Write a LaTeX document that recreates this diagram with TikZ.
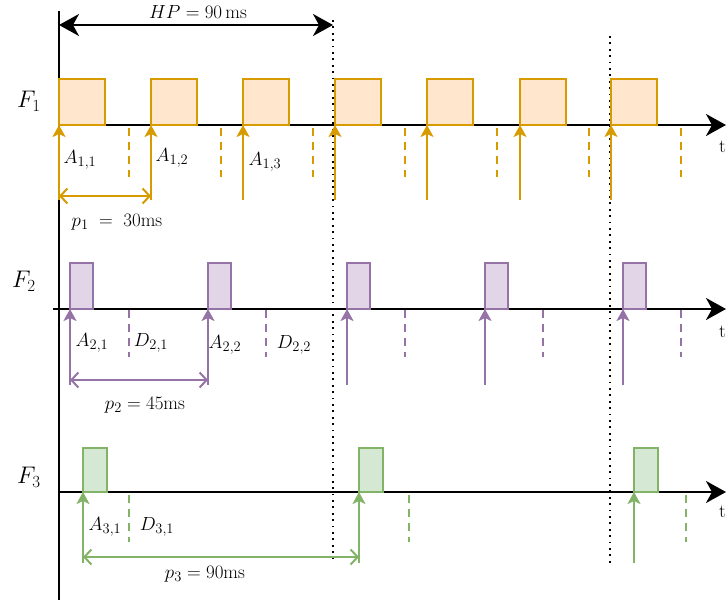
\documentclass[tikz,border=0pt]{standalone}
\usepackage{fix-cm}
\usetikzlibrary{arrows.meta}
\DeclareMathSizes{19}{19}{14.5}{11}
\DeclareMathSizes{24}{24}{17}{13}
\definecolor{oS}{HTML}{D79B00}\definecolor{oF}{HTML}{FFE6CC}
\definecolor{pS}{HTML}{9673A6}\definecolor{pF}{HTML}{E1D5E7}
\definecolor{gS}{HTML}{82B366}\definecolor{gF}{HTML}{D5E8D4}
\tikzset{
  bigtip/.tip={Stealth[length=20pt,width=22pt,inset=6pt]},
  axisline/.style={line width=2pt,-bigtip},
  hparrow/.style={line width=2pt,bigtip-bigtip},
  hpline/.style={line width=1.8pt,dash pattern=on 1.8pt off 4.6pt},
  jobbox/.style={draw=#1,line width=2pt,inner sep=0pt,outer sep=0pt,anchor=south west},
  arrival/.style={draw=#1,line width=2pt,-{Stealth[length=12pt,width=13pt,inset=3pt]}},
  deadline/.style={draw=#1,line width=2pt,dash pattern=on 8pt off 6pt},
  period/.style={draw=#1,line width=2pt,{Straight Barb[length=7pt,width=15pt]}-{Straight Barb[length=7pt,width=15pt]}},
  lbl/.style={inner sep=0pt,font=\fontsize{19}{22}\selectfont},
  flbl/.style={inner sep=0pt,font=\fontsize{24}{27}\selectfont},
}
\begin{document}
\begin{tikzpicture}[x=1pt,y=-1pt]
\useasboundingbox (0,0) rectangle (726,600);
% vertical axis and hyperperiod
\coordinate (vtop) at (59,11);
\coordinate (vbot) at (59,600);
\draw[line width=2pt] (vtop) -- (vbot);
\coordinate (hp1) at (59,25);
\coordinate (hp2) at (333,25);
\draw[hparrow] (hp1) -- (hp2);
\node[lbl] (hplbl) at (198,12) {$HP = 90\,\mathrm{ms}$};
\coordinate (d1t) at (333,20); \coordinate (d1b) at (333,563);
\coordinate (d2t) at (610,36); \coordinate (d2b) at (610,563);
\draw[hpline] (d1t) -- (d1b);
\draw[hpline] (d2t) -- (d2b);

% ===== F1 =====
\node[flbl] (F1) at (29,101) {$F_1$};
\coordinate (ax1s) at (59,125); \coordinate (ax1e) at (726,125);
\draw[axisline] (ax1s) -- (ax1e);
\foreach \i/\x in {1/59,2/151,3/243,4/335,5/427,6/520,7/611}{
  \node[jobbox=oS,fill=oF,minimum width=46pt,minimum height=46pt] (b1\i) at (\x,125) {};
  \coordinate (a1\i) at (\x,200);
  \draw[arrival=oS] (a1\i) -- (b1\i.south west);
}
\foreach \i/\x in {1/129,2/221,3/313,4/405,5/497,6/589,7/681}{
  \coordinate (dl1\i t) at (\x,128); \coordinate (dl1\i b) at (\x,177);
  \draw[deadline=oS] (dl1\i t) -- (dl1\i b);
}
\node[lbl] (A11) at (80,160) {$A_{1,1}$};
\node[lbl] (A12) at (172,158) {$A_{1,2}$};
\node[lbl] (A13) at (265,162) {$A_{1,3}$};
\coordinate (p1a) at (59,196); \coordinate (p1b) at (151,196);
\draw[period=oS] (p1a) -- (p1b);
\node[lbl] (p1) at (117,222) {$p_1 \;=\; 30\mathrm{ms}$};
\node[lbl,anchor=east] (t1) at (726,147) {t};

% ===== F2 =====
\node[flbl] (F2) at (24,281) {$F_2$};
\coordinate (ax2s) at (53,309); \coordinate (ax2e) at (726,309);
\draw[axisline] (ax2s) -- (ax2e);
\foreach \i/\x in {1/70,2/208,3/347,4/485,5/623}{
  \node[jobbox=pS,fill=pF,minimum width=23pt,minimum height=46pt] (b2\i) at (\x,309) {};
  \coordinate (a2\i) at (\x,385);
  \draw[arrival=pS] (a2\i) -- (b2\i.south west);
}
\foreach \i/\x in {1/129,2/266,3/405,4/543,5/681}{
  \coordinate (dl2\i t) at (\x,310); \coordinate (dl2\i b) at (\x,357);
  \draw[deadline=pS] (dl2\i t) -- (dl2\i b);
}
\node[lbl] (A21) at (92,343) {$A_{2,1}$};
\node[lbl] (D21) at (151,343) {$D_{2,1}$};
\node[lbl] (A22) at (225,345) {$A_{2,2}$};
\node[lbl] (D22) at (294,345) {$D_{2,2}$};
\coordinate (p2a) at (70,380); \coordinate (p2b) at (208,380);
\draw[period=pS] (p2a) -- (p2b);
\node[lbl] (p2) at (145,405) {$p_2 = 45\mathrm{ms}$};
\node[lbl,anchor=east] (t2) at (726,332) {t};

% ===== F3 =====
\node[flbl] (F3) at (29,477) {$F_3$};
\coordinate (ax3s) at (59,492); \coordinate (ax3e) at (726,492);
\draw[axisline] (ax3s) -- (ax3e);
\foreach \i/\x in {1/83,2/359,3/634}{
  \node[jobbox=gS,fill=gF,minimum width=24pt,minimum height=44pt] (b3\i) at (\x,492) {};
  \coordinate (a3\i) at (\x,563);
  \draw[arrival=gS] (a3\i) -- (b3\i.south west);
}
\foreach \i/\x in {1/129,2/409,3/686}{
  \coordinate (dl3\i t) at (\x,495); \coordinate (dl3\i b) at (\x,542);
  \draw[deadline=gS] (dl3\i t) -- (dl3\i b);
}
\node[lbl] (A31) at (105,527) {$A_{3,1}$};
\node[lbl] (D31) at (157,527) {$D_{3,1}$};
\coordinate (p3a) at (83,557); \coordinate (p3b) at (359,557);
\draw[period=gS] (p3a) -- (p3b);
\node[lbl] (p3) at (205,574) {$p_3 = 90\mathrm{ms}$};
\node[lbl,anchor=east] (t3) at (726,512) {t};
\end{tikzpicture}
\end{document}
